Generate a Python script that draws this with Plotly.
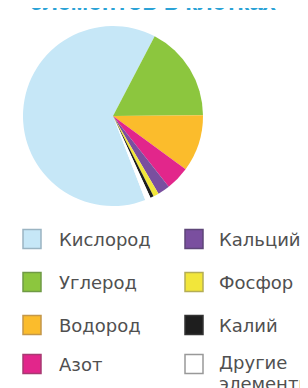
import plotly.graph_objects as go

labels = ["Кислород", "Углерод", "Водород", "Азот", "Кальций", "Фосфор", "Калий", "Другие элементы"]
legend_lines = [["Кислород"], ["Углерод"], ["Водород"], ["Азот"],
                ["Кальций"], ["Фосфор"], ["Калий"], ["Другие", "элементы"]]
values = [63.5, 17.2, 10.2, 4.3, 2.2, 1.0, 0.6, 1.0]
colors = ["#c6e7f7", "#8cc63e", "#fbbc2c", "#e2268b", "#7a4f9f", "#f2e63a", "#1e1e1e", "#ffffff"]
edge_colors = ["#9ab4c2", "#6f9a45", "#c4974a", "#a83a72", "#5e4678", "#b4ad55", "#333333", "#999999"]
title_text = "элементов в клетках"

W, H = 308, 388
cx, cy, rr = 105, 108, 90

fig = go.Figure()
fig.add_trace(go.Pie(
    labels=labels, values=values, sort=False, direction="clockwise", rotation=159,
    marker=dict(colors=colors, line=dict(width=0)),
    textinfo="none", hoverinfo="label+percent", showlegend=False,
    domain=dict(x=[(cx - rr) / W, (cx + rr) / W], y=[1 - (cy + rr) / H, 1 - (cy - rr) / H]),
))

# manual two-column legend (column-major order)
col_x = [15, 177]
text_x = [49, 209]
row_y = [231, 274, 317, 356]
line_gap = 21
sw = 18
shapes = []
annotations = []
for i, (lines, c, ec) in enumerate(zip(legend_lines, colors, edge_colors)):
    col, row = divmod(i, 4)
    x0 = col_x[col]
    yc = row_y[row]
    shapes.append(dict(
        type="rect", xref="paper", yref="paper",
        x0=x0 / W, x1=(x0 + sw) / W, y0=1 - (yc + 9.5) / H, y1=1 - (yc - 9.5) / H,
        fillcolor=c, line=dict(color=ec, width=1.5),
    ))
    ty0 = yc - 2 if len(lines) > 1 else yc
    for k, line in enumerate(lines):
        annotations.append(dict(
            text=line, xref="paper", yref="paper", x=text_x[col] / W,
            y=1 - (ty0 + k * line_gap) / H,
            xanchor="left", yanchor="middle", showarrow=False,
            font=dict(family="DejaVu Sans, Verdana, sans-serif", size=18, color="#505050"),
        ))

annotations.append(dict(
    text="<b>" + title_text + "</b>", xref="paper", yref="paper",
    x=20 / W, y=1 - 9 / H, xanchor="left", yanchor="bottom", showarrow=False,
    font=dict(family="Liberation Sans, Arial, sans-serif", size=24, color="#2aa2d6"),
))

fig.update_layout(
    width=W, height=H, margin=dict(l=0, r=0, t=0, b=0),
    paper_bgcolor="white", plot_bgcolor="white",
    showlegend=False, shapes=shapes, annotations=annotations,
)
fig.write_html("out.html")
